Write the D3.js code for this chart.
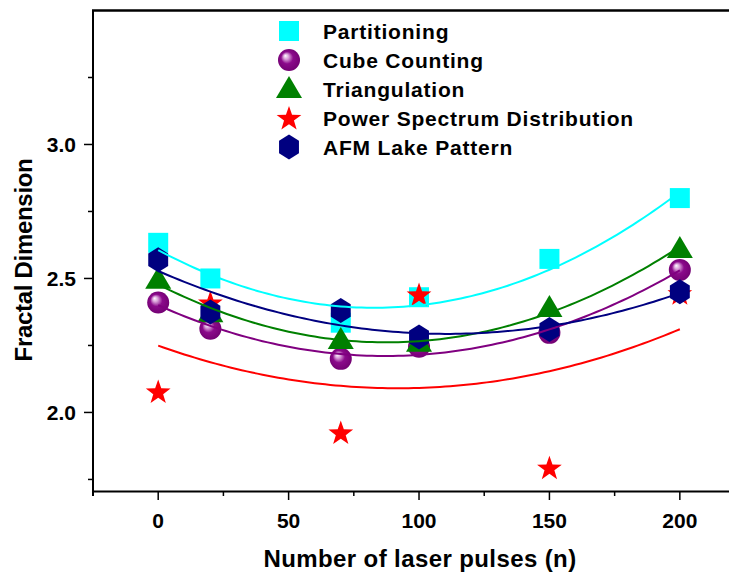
<!DOCTYPE html>
<html>
<head>
<meta charset="utf-8">
<script src="https://cdn.jsdelivr.net/npm/d3@7"></script>
<style>
  body { margin: 0; background: #fff; }
  text { font-family: "Liberation Sans", Arial, sans-serif; font-weight: bold; }
</style>
</head>
<body>
<script>
const W = 729, H = 573;

// data
const pulses = [0, 20, 70, 100, 150, 200];
const partitioning = [2.633, 2.50, 2.335, 2.43, 2.573, 2.80];
const cubeCounting = [2.41, 2.312, 2.20, 2.245, 2.297, 2.532];
const triangulation = [2.495, 2.37, 2.27, 2.26, 2.39, 2.61];
const powerSpectrum = [2.078, 2.41, 1.925, 2.44, 1.794, 2.445];
const afmLake = [2.57, 2.375, 2.38, 2.282, 2.31, 2.45];

const seriesNames = ["Partitioning", "Cube Counting", "Triangulation", "Power Spectrum Distribution", "AFM Lake Pattern"];
const seriesColors = ["#00FFFF", "#800080", "#008000", "#FF0000", "#000080"];
const seriesShapes = ["square", "sphere", "triangle", "star", "hexagon"];
const seriesValues = [partitioning, cubeCounting, triangulation, powerSpectrum, afmLake];

const xTicks = [0, 50, 100, 150, 200];
const xMinor = [25, 75, 125, 175];
const yTicks = [2.0, 2.5, 3.0];
const yMinor = [1.75, 2.25, 2.75, 3.25];

const x = d3.scaleLinear().domain([-25, 220]).range([93, 732]);
const y = d3.scaleLinear().domain([1.705, 3.5]).range([491.5, 10.5]);

const svg = d3.select("body").append("svg").attr("width", W).attr("height", H);

const defs = svg.append("defs");
const grad = defs.append("radialGradient").attr("id", "ball")
    .attr("cx", "50%").attr("cy", "50%").attr("r", "55%")
    .attr("fx", "33%").attr("fy", "30%");
grad.append("stop").attr("offset", "0%").attr("stop-color", "#ffffff");
grad.append("stop").attr("offset", "22%").attr("stop-color", "#d9a0d9");
grad.append("stop").attr("offset", "50%").attr("stop-color", "#8b0a8b");
grad.append("stop").attr("offset", "100%").attr("stop-color", "#700070");

// marker shapes drawn around (0,0)
function shapePath(kind) {
    if (kind === "square") return "M-10,-10H10V10H-10Z";
    if (kind === "triangle") return "M0,-13L13,9H-13Z";
    if (kind === "hexagon") {
        const r = 12.5, pts = [];
        for (let i = 0; i < 6; i++) {
            const a = Math.PI / 3 * i - Math.PI / 2;
            pts.push([r * 0.92 * Math.cos(a), r * Math.sin(a)]);
        }
        return "M" + pts.map(p => p.join(",")).join("L") + "Z";
    }
    if (kind === "star") {
        const R = 13, r = 5.2, pts = [];
        for (let i = 0; i < 10; i++) {
            const a = Math.PI / 5 * i - Math.PI / 2;
            const rr = i % 2 === 0 ? R : r;
            pts.push([rr * Math.cos(a), rr * Math.sin(a) + 1]);
        }
        return "M" + pts.map(p => p.join(",")).join("L") + "Z";
    }
    return null;
}

function drawMarker(g, kind, color, cx, cy) {
    if (kind === "sphere") {
        g.append("circle").attr("cx", cx).attr("cy", cy).attr("r", 11).attr("fill", "url(#ball)");
    } else {
        g.append("path").attr("d", shapePath(kind))
            .attr("transform", `translate(${cx},${cy})`).attr("fill", color);
    }
}

// least squares quadratic fit
function quadFit(xs, ys) {
    let S = [0, 0, 0, 0, 0], T = [0, 0, 0];
    xs.forEach((xv, i) => {
        for (let k = 0; k < 5; k++) S[k] += Math.pow(xv, k);
        for (let k = 0; k < 3; k++) T[k] += Math.pow(xv, k) * ys[i];
    });
    const A = [[S[0], S[1], S[2], T[0]], [S[1], S[2], S[3], T[1]], [S[2], S[3], S[4], T[2]]];
    for (let i = 0; i < 3; i++) {
        for (let j = i + 1; j < 3; j++) {
            const f = A[j][i] / A[i][i];
            for (let k = i; k < 4; k++) A[j][k] -= f * A[i][k];
        }
    }
    const c = [0, 0, 0];
    for (let i = 2; i >= 0; i--) {
        let s = A[i][3];
        for (let k = i + 1; k < 3; k++) s -= A[i][k] * c[k];
        c[i] = s / A[i][i];
    }
    return xv => c[0] + c[1] * xv + c[2] * xv * xv;
}

// axes
const axes = svg.append("g").attr("stroke", "#000").attr("fill", "none");
axes.append("line").attr("x1", 93).attr("x2", 93).attr("y1", 10).attr("y2", 496).attr("stroke-width", 2);
axes.append("line").attr("x1", 92).attr("x2", W).attr("y1", 491.5).attr("y2", 491.5).attr("stroke-width", 2);
axes.append("line").attr("x1", 92).attr("x2", W).attr("y1", 10.5).attr("y2", 10.5).attr("stroke-width", 2.5);

xTicks.forEach(t => axes.append("line").attr("x1", x(t)).attr("x2", x(t)).attr("y1", 491).attr("y2", 500).attr("stroke-width", 1.5));
xMinor.forEach(t => axes.append("line").attr("x1", x(t)).attr("x2", x(t)).attr("y1", 491).attr("y2", 496).attr("stroke-width", 1.5));
yTicks.forEach(t => axes.append("line").attr("x1", 84).attr("x2", 93).attr("y1", y(t)).attr("y2", y(t)).attr("stroke-width", 1.5));
yMinor.forEach(t => axes.append("line").attr("x1", 88).attr("x2", 93).attr("y1", y(t)).attr("y2", y(t)).attr("stroke-width", 1.5));

svg.append("g").selectAll("text").data(xTicks).join("text")
    .attr("x", d => x(d)).attr("y", 528).attr("text-anchor", "middle")
    .attr("font-size", 21).text(d => d);
svg.append("g").selectAll("text").data(yTicks).join("text")
    .attr("x", 76).attr("y", d => y(d) + 7.5).attr("text-anchor", "end")
    .attr("font-size", 21).text(d => d.toFixed(1));

svg.append("text").attr("x", 420).attr("y", 567).attr("text-anchor", "middle")
    .attr("font-size", 24).attr("letter-spacing", 0.4).text("Number of laser pulses (n)");
svg.append("text").attr("transform", "translate(32,260) rotate(-90)").attr("text-anchor", "middle")
    .attr("font-size", 24).attr("letter-spacing", -0.3).text("Fractal Dimension");

// markers
const drawOrder = [0, 1, 2, 3, 4];
const marks = svg.append("g");
drawOrder.forEach(s => {
    pulses.forEach((p, i) => drawMarker(marks, seriesShapes[s], seriesColors[s], x(p), y(seriesValues[s][i])));
});

// fitted curves
const line = d3.line().x(d => x(d[0])).y(d => y(d[1]));
const xs = d3.range(0, 200.01, 2);
seriesValues.forEach((vals, s) => {
    const f = quadFit(pulses, vals);
    svg.append("path").attr("d", line(xs.map(v => [v, f(v)])))
        .attr("fill", "none").attr("stroke", seriesColors[s]).attr("stroke-width", 2);
});

// legend
const legY = [31, 60, 89, 118, 147];
const leg = svg.append("g");
seriesNames.forEach((n, i) => {
    drawMarker(leg, seriesShapes[i], seriesColors[i], 289, legY[i]);
    leg.append("text").attr("x", 323).attr("y", legY[i] + 8).attr("font-size", 21)
        .attr("letter-spacing", 0.8).text(n);
});
</script>
</body>
</html>
